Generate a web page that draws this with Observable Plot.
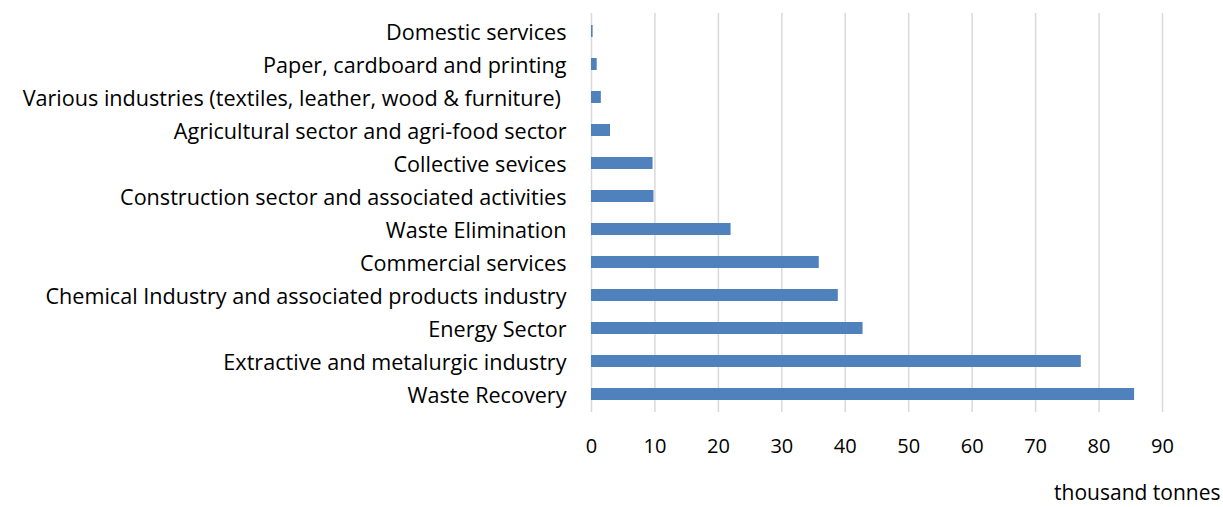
<!DOCTYPE html>
<html>
<head>
<meta charset="utf-8">
<script src="https://cdn.jsdelivr.net/npm/d3@7"></script>
<script src="https://cdn.jsdelivr.net/npm/@observablehq/plot@0.6"></script>
<style>
  html, body { margin: 0; padding: 0; background: #fff; }
  svg { display: block; }
</style>
</head>
<body>
<div id="chart"></div>
<script>
const categories = [
  "Domestic services",
  "Paper, cardboard and printing",
  "Various industries (textiles, leather, wood & furniture)\u00a0",
  "Agricultural sector and agri-food sector",
  "Collective sevices",
  "Construction sector and associated activities",
  "Waste Elimination",
  "Commercial services",
  "Chemical Industry and associated products industry",
  "Energy Sector",
  "Extractive and metalurgic industry",
  "Waste Recovery"
];
const values = [0.25, 0.9, 1.55, 3.0, 9.7, 9.85, 22.0, 35.9, 38.9, 42.8, 77.2, 85.6];
const xTicks = [0, 10, 20, 30, 40, 50, 60, 70, 80, 90];
const xLabel = "thousand tonnes";

const data = categories.map((c, i) => ({category: c, value: values[i]}));

const chart = Plot.plot({
  width: 1223,
  height: 507,
  marginLeft: 591,
  marginRight: 61,
  marginTop: 13,
  marginBottom: 95,
  style: {fontFamily: "'Open Sans', sans-serif", fontSize: "21.6px", color: "#000", background: "#fff"},
  x: {domain: [0, 90], ticks: xTicks, label: null},
  y: {domain: categories, paddingInner: 0.64, paddingOuter: 0.32, label: null},
  marks: [
    Plot.gridX(xTicks, {stroke: "#d9d9d9", strokeOpacity: 1, strokeWidth: 1.5}),
    Plot.barX(data, {x: "value", y: "category", fill: "#4f81bd"}),
    Plot.axisX({ticks: xTicks, tickSize: 0, tickPadding: 26, tickFormat: d3.format("d"), label: null, fill: "#000", fontSize: 20}),
    Plot.axisX({ticks: [], tickSize: 0, label: xLabel, labelAnchor: "right", labelArrow: "none", labelOffset: 87, dx: 57, fill: "#000", fontSize: 21}),
    Plot.axisY({tickSize: 0, tickPadding: 25, dy: 2, label: null, fill: "#000"})
  ]
});
document.getElementById("chart").appendChild(chart);
</script>
</body>
</html>
